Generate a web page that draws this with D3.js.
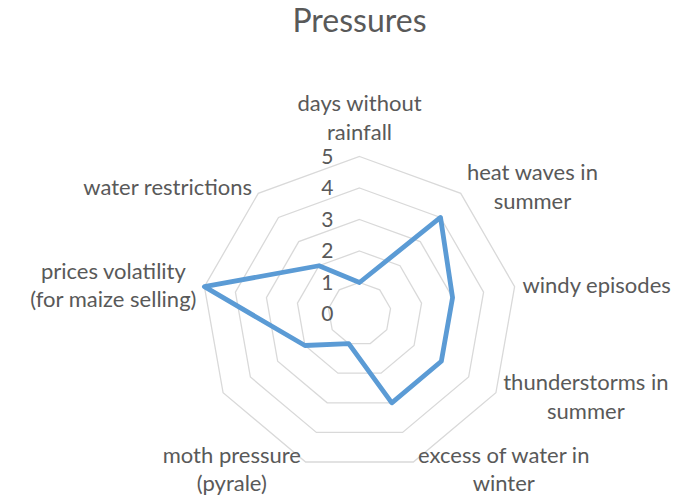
<!DOCTYPE html>
<html>
<head>
<meta charset="utf-8">
<script src="https://cdn.jsdelivr.net/npm/d3@7"></script>
<style>
  body { margin: 0; background: #fff; }
  svg { display: block; font-family: Lato, "Open Sans", sans-serif; }
</style>
</head>
<body>
<div id="chart"></div>
<script>
// data
var categories = ["days without\nrainfall", "heat waves in\nsummer", "windy episodes",
                  "thunderstorms in\nsummer", "excess of water in\nwinter", "moth pressure\n(pyrale)",
                  "", "prices volatility\n(for maize selling)", "water restrictions"];
var values = [1, 4, 3, 3, 3, 1, 2, 5, 2];
var ticks = [0, 1, 2, 3, 4, 5];

var width = 692, height = 498;
var cx = 359.5, cy = 314, R = 157.5;
var textColor = "#595959";

var svg = d3.select("#chart").append("svg")
  .attr("width", width)
  .attr("height", height);

var r = d3.scaleLinear().domain([0, 5]).range([0, R]);
var angle = d3.scaleLinear().domain([0, categories.length]).range([0, 2 * Math.PI]);

var g = svg.append("g").attr("transform", "translate(" + cx + "," + cy + ")");

// title
svg.append("text")
  .attr("x", cx)
  .attr("y", 32)
  .attr("text-anchor", "middle")
  .style("font-size", "32px")
  .style("fill", textColor)
  .text("Pressures");

// grid rings (no spokes, 0 is the centre)
var ring = d3.lineRadial()
  .angle(function(d, i) { return angle(i); })
  .radius(function(d) { return r(d); })
  .curve(d3.curveLinearClosed);

g.selectAll(".ring")
  .data(ticks.filter(function(t) { return t > 0; }))
  .enter().append("path")
  .attr("class", "ring")
  .attr("d", function(t) { return ring(categories.map(function() { return t; })); })
  .style("fill", "none")
  .style("stroke", "#d9d9d9")
  .style("stroke-width", 1.3);

// value labels
g.selectAll(".tick")
  .data(ticks)
  .enter().append("text")
  .attr("class", "tick")
  .attr("x", -26)
  .attr("y", function(t) { return -r(t); })
  .attr("dy", "0.35em")
  .attr("text-anchor", "end")
  .style("font-size", "21px")
  .style("fill", textColor)
  .text(function(t) { return t; });

// series
g.append("path")
  .datum(values)
  .attr("d", ring)
  .style("fill", "none")
  .style("stroke", "#5b9bd5")
  .style("stroke-width", 4.8)
  .style("stroke-linejoin", "round");

// category labels, lines centred inside their block
var lineH = 28.5;
categories.forEach(function(c, i) {
  if (!c) return;
  var a = angle(i), s = Math.sin(a), co = Math.cos(a);
  var vx = r(5) * s, vy = -r(5) * co;
  var lines = c.split("\n");
  var t = g.append("text")
    .attr("text-anchor", "middle")
    .style("font-size", "22px")
    .style("fill", textColor);
  var spans = lines.map(function(l) { return t.append("tspan").text(l); });
  var w = d3.max(spans, function(sp) { return sp.node().getComputedTextLength(); });
  var bx, by;
  if (Math.abs(s) < 0.01) {
    bx = vx;
    by = vy - 10 - lines.length * lineH / 2;
  } else {
    var gap = 3 + 5 * Math.abs(s);
    bx = s > 0 ? vx + gap + w / 2 : vx - gap - w / 2;
    by = vy - 8 * co;
  }
  spans.forEach(function(sp, k) {
    sp.attr("x", bx)
      .attr("y", by - (lines.length - 1) * lineH / 2 + k * lineH + 7.5);
  });
});
</script>
</body>
</html>
